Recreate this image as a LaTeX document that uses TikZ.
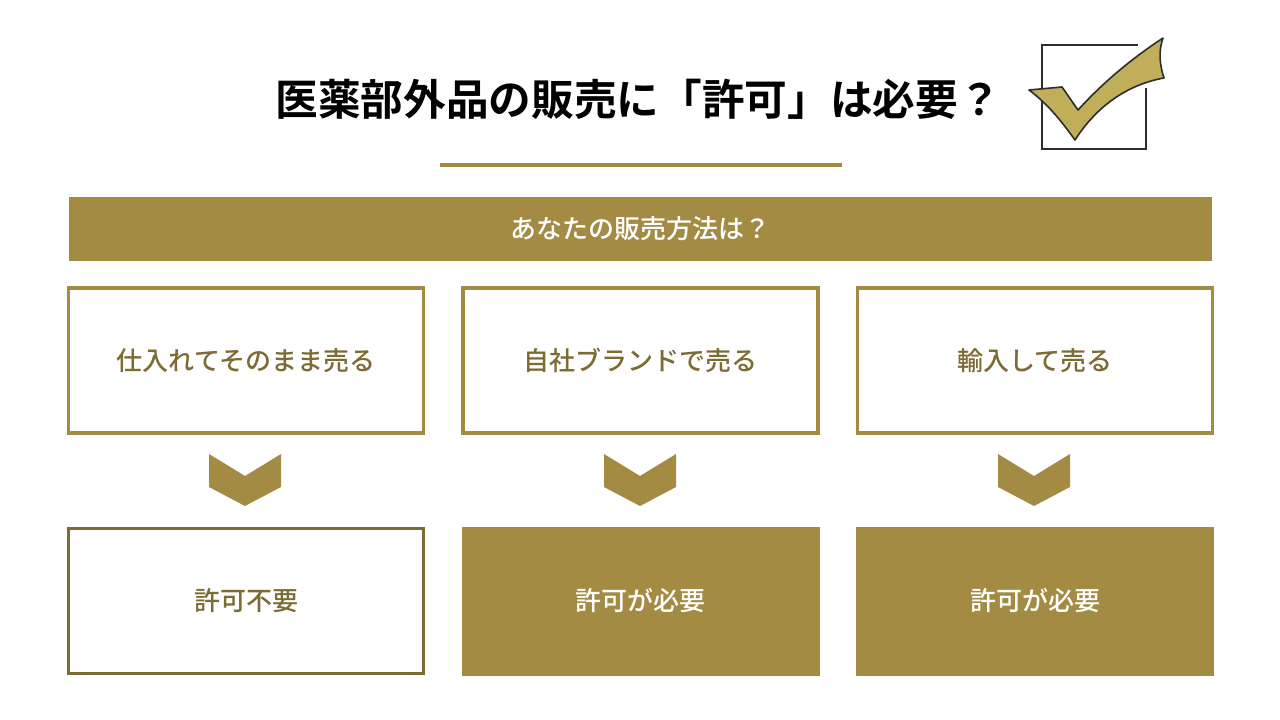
\documentclass[tikz,border=0pt]{standalone}
\usepackage{fontspec}
\newfontfamily\jpb{Noto Sans CJK JP Bold}
\newfontfamily\jpm{Noto Sans CJK JP Medium}
\definecolor{gold}{RGB}{163,139,68}
\definecolor{darkgold}{RGB}{125,107,52}
\definecolor{checkgold}{RGB}{192,174,88}
\definecolor{boxgray}{RGB}{45,45,45}
\begin{document}
\begin{tikzpicture}[x=0.75pt,y=-0.75pt,
  txt/.style={font=\jpm\fontsize{19.5pt}{22pt}\selectfont},
  choice/.style={txt,draw=gold,line width=2.4pt,fill=white,minimum width=355*0.75pt,minimum height=145*0.75pt,inner sep=0pt,text=darkgold},
  resultno/.style={txt,draw=darkgold,line width=2.4pt,fill=white,minimum width=355*0.75pt,minimum height=145*0.75pt,inner sep=0pt,text=darkgold},
  resultyes/.style={txt,fill=gold,minimum width=358*0.75pt,minimum height=149*0.75pt,inner sep=0pt,text=white},
  chev/.style={fill=gold,draw=none}]
\useasboundingbox (0,0) rectangle (1280,720);
\fill[white] (0,0) rectangle (1280,720);
% title
\node[font=\jpb\fontsize{32pt}{36pt}\selectfont,text=black,inner sep=0pt] (title) at (638,99) {医薬部外品の販売に「許可」は必要？};
\draw[gold,line width=2.4pt] (440,165) -- (842,165);
% check icon
\draw[boxgray,line width=1.5pt] (1138,45) -- (1042,45) -- (1042,149) -- (1146,149) -- (1146,88);
\draw[boxgray,line width=1.2pt,fill=checkgold,line join=round]
  (1029,90) -- (1062,87) -- (1078,110)
  .. controls (1098,88) and (1125,63) .. (1163,38)
  .. controls (1158,52) and (1160,66) .. (1164,78)
  .. controls (1130,84) and (1098,104) .. (1075,140)
  .. controls (1062,122) and (1048,104) .. (1029,90) -- cycle;
% header
\node[txt,fill=gold,minimum width=1143*0.75pt,minimum height=64*0.75pt,inner sep=0pt,text=white] (head) at (640.5,229) {あなたの販売方法は？};
% choices
\node[choice] (c1) at (246,360.5) {仕入れてそのまま売る};
\node[choice] (c2) at (640.5,360.5) {自社ブランドで売る};
\node[choice] (c3) at (1035,360.5) {輸入して売る};
% chevrons
\foreach \cx/\nm in {245/v1,640/v2,1034/v3}{
  \fill[chev] (\cx-36,454) -- (\cx,476) -- (\cx+36,454) -- (\cx+36,487) -- (\cx,506) -- (\cx-36,487) -- cycle;
}
% results
\node[resultno] (r1) at (246,601) {許可不要};
\node[resultyes] (r2) at (640.5,601) {許可が必要};
\node[resultyes] (r3) at (1035,601) {許可が必要};
\end{tikzpicture}
\end{document}
